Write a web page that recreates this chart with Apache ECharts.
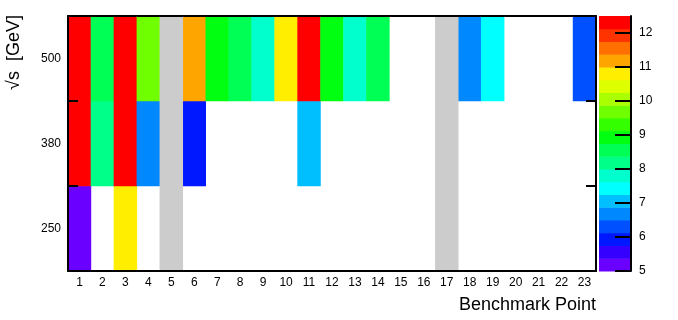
<!DOCTYPE html>
<html>
<head>
<meta charset="utf-8">
<script src="https://cdn.jsdelivr.net/npm/echarts@6/dist/echarts.min.js"></script>
<style>
  html, body { margin: 0; padding: 0; background: #fff; }
  #chart { width: 678px; height: 320px; }
</style>
</head>
<body>
<div id="chart"></div>
<script>
// benchmark points (x) and collision energies (y)
var benchmarkPoints = ['1', '2', '3', '4', '5', '6', '7', '8', '9', '10', '11', '12',
  '13', '14', '15', '16', '17', '18', '19', '20', '21', '22', '23'];
var energies = ['250', '380', '500'];

// z value of each point per energy, null = no entry
var values250 = [5.2, null, 10.8, null, null, null, null, null, null, null, null, null,
  null, null, null, null, null, null, null, null, null, null, null];
var values380 = [12.3, 8.2, 12.3, 6.7, null, 5.9, null, null, null, null, 7.0, null,
  null, null, null, null, null, null, null, null, null, null, null];
var values500 = [12.3, 8.5, 12.3, 9.7, null, 11.2, 8.9, 8.5, 7.8, 10.8, 12.3, 8.9,
  7.8, 8.5, null, null, null, 6.7, 7.4, null, null, null, 6.3];

// points shown grey at every energy
var greyPoints = ['5', '17'];

// colour scale, 20 bands from zMin to zMax (lowest first)
var zMin = 5;
var zMax = 12.5;
var scaleTicks = [5, 6, 7, 8, 9, 10, 11, 12];
var bandColors = ['#6a00ff', '#3500ff', '#0018ff', '#0050ff', '#0088ff', '#00bfff',
  '#00ffff', '#00ffcc', '#00ff88', '#00ff55', '#00ff11', '#33ff00', '#6fff00',
  '#aaff00', '#ddff00', '#ffee00', '#ffa500', '#ff7000', '#ff3300', '#ff0000'];

var font = 'Liberation Sans, Arial, sans-serif';

var cells = [];
[values250, values380, values500].forEach(function (row, j) {
  row.forEach(function (v, i) {
    if (v !== null) cells.push([i, j, v]);
  });
});

var greyCells = [];
greyPoints.forEach(function (p) {
  energies.forEach(function (e, j) {
    greyCells.push([benchmarkPoints.indexOf(p), j, 0]);
  });
});

var step = (zMax - zMin) / bandColors.length;
var pieces = bandColors.map(function (c, k) {
  return { gte: zMin + k * step, lt: zMin + (k + 1) * step, color: c };
});
var bands = bandColors.map(function (c, k) {
  return [0, zMin + k * step, zMin + (k + 1) * step];
});

var frame = { show: true, lineStyle: { color: '#000', width: 2 } };
var innerTick = { show: true, inside: true, length: 10, lineStyle: { color: '#000', width: 2 } };

var myChart = echarts.init(document.getElementById('chart'));

var option = {
  animation: false,
  textStyle: { fontFamily: font },
  grid: [
    { left: 68, right: 82, top: 16, bottom: 49 },
    { left: 599, width: 32, top: 16, bottom: 49 }
  ],
  visualMap: {
    type: 'piecewise',
    show: false,
    seriesIndex: 0,
    pieces: pieces
  },
  xAxis: [
    {
      type: 'category', gridIndex: 0, data: benchmarkPoints, position: 'bottom', z: 10,
      axisLine: frame,
      axisTick: { show: false },
      axisLabel: { interval: 0, color: '#000', fontSize: 12, margin: 6, fontFamily: font },
      name: 'Benchmark Point',
      nameLocation: 'end',
      nameGap: 0,
      nameTextStyle: {
        fontSize: 18, color: '#000', fontFamily: font,
        align: 'right', verticalAlign: 'top', padding: [25, 0, 0, 0]
      }
    },
    {
      type: 'category', gridIndex: 0, data: benchmarkPoints, position: 'top', z: 10,
      axisLine: frame, axisTick: { show: false }, axisLabel: { show: false }
    },
    {
      type: 'category', gridIndex: 1, data: [''], show: false
    }
  ],
  yAxis: [
    {
      type: 'category', gridIndex: 0, data: energies, position: 'left', z: 10,
      axisLine: frame,
      axisTick: innerTick,
      axisLabel: { color: '#000', fontSize: 12, margin: 7, fontFamily: font }
    },
    {
      type: 'category', gridIndex: 0, data: energies, position: 'right', z: 10,
      axisLine: frame,
      axisTick: innerTick,
      axisLabel: { show: false }
    },
    {
      type: 'value', gridIndex: 1, min: zMin, max: zMax, interval: 1, position: 'right', z: 10,
      axisLine: frame,
      axisTick: {
        show: true, inside: true, length: 16, customValues: scaleTicks,
        lineStyle: { color: '#000', width: 2 }
      },
      axisLabel: { customValues: scaleTicks, color: '#000', fontSize: 12, margin: 8, fontFamily: font },
      splitLine: { show: false }
    }
  ],
  series: [
    {
      type: 'heatmap', xAxisIndex: 0, yAxisIndex: 0, data: cells,
      itemStyle: { borderWidth: 0 }
    },
    {
      type: 'heatmap', xAxisIndex: 0, yAxisIndex: 0, data: greyCells,
      itemStyle: { color: '#cccccc', borderWidth: 0 }
    },
    {
      type: 'custom', xAxisIndex: 2, yAxisIndex: 2, data: bands,
      renderItem: function (params, api) {
        var lo = api.coord([0, api.value(1)]);
        var hi = api.coord([0, api.value(2)]);
        var w = api.size([1, 0])[0];
        return {
          type: 'rect',
          shape: { x: lo[0] - w / 2, y: hi[1], width: w, height: lo[1] - hi[1] + 0.5 },
          style: { fill: bandColors[params.dataIndex] }
        };
      }
    }
  ],
  graphic: [
    {
      type: 'text', x: 14, y: 15, rotation: Math.PI / 2,
      style: {
        text: '\u221As  [GeV]', fontSize: 18, fontFamily: font, fill: '#000',
        align: 'right', verticalAlign: 'middle'
      }
    }
  ]
};

myChart.setOption(option);
</script>
</body>
</html>
